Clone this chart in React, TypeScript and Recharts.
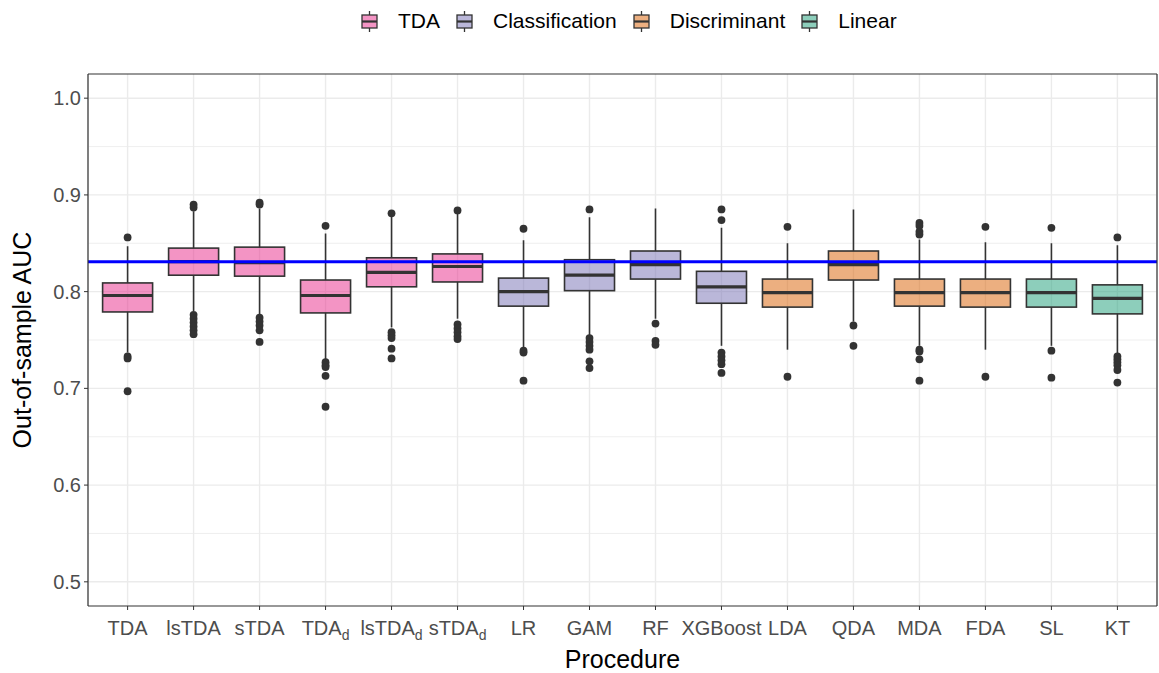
import React from 'react';
import { ComposedChart, Bar, Scatter, XAxis, YAxis, CartesianGrid, ReferenceLine } from 'recharts';

const FONT = '"Liberation Sans", Arial, Helvetica, sans-serif';

const procedures = ['TDA', 'lsTDA', 'sTDA', 'TDA_d', 'lsTDA_d', 'sTDA_d', 'LR', 'GAM', 'RF', 'XGBoost', 'LDA', 'QDA', 'MDA', 'FDA', 'SL', 'KT'];
const groupOf = ['TDA', 'TDA', 'TDA', 'TDA', 'TDA', 'TDA', 'Classification', 'Classification', 'Classification', 'Classification', 'Discriminant', 'Discriminant', 'Discriminant', 'Discriminant', 'Linear', 'Linear'];

const lowerWhisker = [0.737, 0.78, 0.776, 0.73, 0.763, 0.772, 0.742, 0.755, 0.772, 0.744, 0.74, 0.769, 0.744, 0.74, 0.744, 0.735];
const q1 = [0.779, 0.817, 0.816, 0.778, 0.805, 0.81, 0.785, 0.801, 0.813, 0.788, 0.784, 0.812, 0.785, 0.784, 0.784, 0.777];
const median = [0.796, 0.831, 0.83, 0.796, 0.82, 0.826, 0.8, 0.817, 0.828, 0.805, 0.799, 0.828, 0.799, 0.799, 0.799, 0.793];
const q3 = [0.809, 0.845, 0.846, 0.812, 0.835, 0.839, 0.814, 0.833, 0.842, 0.821, 0.813, 0.842, 0.813, 0.813, 0.813, 0.807];
const upperWhisker = [0.847, 0.883, 0.886, 0.86, 0.878, 0.882, 0.853, 0.877, 0.886, 0.866, 0.85, 0.885, 0.854, 0.851, 0.85, 0.848];

const outliers = [
  [0.856, 0.733, 0.731, 0.697],
  [0.89, 0.887, 0.776, 0.772, 0.768, 0.764, 0.76, 0.756],
  [0.892, 0.89, 0.773, 0.769, 0.765, 0.76, 0.748],
  [0.868, 0.727, 0.724, 0.722, 0.713, 0.681],
  [0.881, 0.758, 0.755, 0.752, 0.741, 0.731],
  [0.884, 0.766, 0.762, 0.758, 0.754, 0.751],
  [0.865, 0.739, 0.737, 0.708],
  [0.885, 0.752, 0.748, 0.744, 0.74, 0.728, 0.721],
  [0.767, 0.749, 0.745],
  [0.885, 0.874, 0.737, 0.733, 0.729, 0.725, 0.716],
  [0.867, 0.712],
  [0.765, 0.744],
  [0.871, 0.868, 0.862, 0.859, 0.74, 0.738, 0.73, 0.708],
  [0.867, 0.712],
  [0.866, 0.739, 0.711],
  [0.856, 0.733, 0.73, 0.727, 0.724, 0.719, 0.706],
];

const benchmark = 0.831;

const groups = ['TDA', 'Classification', 'Discriminant', 'Linear'];
const groupColors: Record<string, string> = {
  TDA: '#E7298A',
  Classification: '#7570B3',
  Discriminant: '#D95F02',
  Linear: '#1B9E77',
};

const majorTicks = [0.5, 0.6, 0.7, 0.8, 0.9, 1.0];
const minorTicks = [0.55, 0.65, 0.75, 0.85, 0.95];

const data = procedures.map((proc, i) => ({
  proc,
  group: groupOf[i],
  lo: lowerWhisker[i],
  q1: q1[i],
  med: median[i],
  q3: q3[i],
  hi: upperWhisker[i],
  box: [q1[i], q3[i]],
}));

const outlierPoints = procedures.flatMap((proc, i) => outliers[i].map((value) => ({ proc, value })));

// box drawn from the [q1, q3] bar; whiskers/median placed on the same linear scale
const BoxShape = (props: any) => {
  const { x, y, width, height, payload } = props;
  const top = Math.min(y, y + height);
  const h = Math.abs(height);
  const k = h / (payload.q3 - payload.q1);
  const py = (v: number) => top + (payload.q3 - v) * k;
  const cx = x + width / 2;
  const color = groupColors[payload.group];
  return (
    <g>
      <line x1={cx} x2={cx} y1={py(payload.hi)} y2={py(payload.q3)} stroke="#333333" strokeWidth={1.6} />
      <line x1={cx} x2={cx} y1={py(payload.q1)} y2={py(payload.lo)} stroke="#333333" strokeWidth={1.6} />
      <rect x={x} y={top} width={width} height={h} fill={color} fillOpacity={0.5} stroke="#333333" strokeWidth={1.6} />
      <line x1={x} x2={x + width} y1={py(payload.med)} y2={py(payload.med)} stroke="#333333" strokeWidth={3.2} />
    </g>
  );
};

const XTick = ({ x, y, payload }: any) => {
  const v = String(payload.value);
  const sub = v.endsWith('_d');
  const base = sub ? v.slice(0, -2) : v;
  return (
    <text x={x} y={y + 23} textAnchor="middle" fill="#4d4d4d" fontSize={20} fontFamily={FONT}>
      {base}
      {sub && (
        <tspan fontSize={14} dy={5}>
          d
        </tspan>
      )}
    </text>
  );
};

const LegendKey = ({ color }: { color: string }) => (
  <svg width={17} height={21} style={{ display: 'block' }}>
    <line x1={8.5} x2={8.5} y1={0} y2={21} stroke="#333333" strokeWidth={1.3} />
    <rect x={1} y={4} width={15} height={13} fill="#fff" />
    <rect x={1} y={4} width={15} height={13} fill={color} fillOpacity={0.5} stroke="#333333" strokeWidth={1.3} />
    <line x1={1} x2={16} y1={10.5} y2={10.5} stroke="#333333" strokeWidth={2.2} />
  </svg>
);

export default function App() {
  return (
    <div style={{ position: 'absolute', left: 0, top: 0, width: 1159, height: 673, background: '#fff', fontFamily: FONT }}>
      <div
        style={{
          position: 'absolute',
          top: 10,
          left: 361,
          display: 'flex',
          alignItems: 'center',
          fontSize: 21,
          lineHeight: '22px',
          color: '#000',
          whiteSpace: 'nowrap',
        }}
      >
        {groups.map((g) => (
          <div key={g} style={{ display: 'flex', alignItems: 'center', marginRight: 16 }}>
            <LegendKey color={groupColors[g]} />
            <span style={{ marginLeft: 20 }}>{g}</span>
          </div>
        ))}
      </div>
      <ComposedChart width={1159} height={673} data={data} margin={{ top: 73, right: 1, bottom: 0, left: 0 }}>
        <CartesianGrid vertical={false} horizontalValues={minorTicks} stroke="#ebebeb" strokeWidth={0.8} />
        <CartesianGrid horizontalValues={majorTicks} stroke="#ebebeb" strokeWidth={1.4} />
        <XAxis
          dataKey="proc"
          type="category"
          allowDuplicatedCategory={false}
          padding={{ left: 6.6, right: 6.6 }}
          height={67}
          tick={<XTick />}
          tickSize={4}
          tickMargin={2}
          tickLine={{ stroke: '#333333' }}
          axisLine={{ stroke: '#333333', strokeWidth: 1.2 }}
          interval={0}
          label={{ value: 'Procedure', position: 'insideBottom', offset: 5, fill: '#000', fontSize: 25, fontFamily: FONT }}
        />
        <XAxis xAxisId="top" dataKey="proc" orientation="top" height={1} tick={false} tickLine={false} axisLine={{ stroke: '#333333', strokeWidth: 1.2 }} />
        <YAxis
          type="number"
          domain={[0.475, 1.025]}
          ticks={majorTicks}
          tickFormatter={(v: number) => v.toFixed(1)}
          width={88}
          tickSize={4}
          tickMargin={3}
          tick={{ fill: '#4d4d4d', fontSize: 20, fontFamily: FONT }}
          tickLine={{ stroke: '#333333' }}
          axisLine={{ stroke: '#333333', strokeWidth: 1.2 }}
          allowDataOverflow
          label={{ value: 'Out-of-sample AUC', angle: -90, position: 'insideLeft', offset: 22, style: { textAnchor: 'middle' }, fill: '#000', fontSize: 25, fontFamily: FONT }}
        />
        <YAxis yAxisId="right" orientation="right" type="number" domain={[0.475, 1.025]} width={1} tick={false} tickLine={false} axisLine={{ stroke: '#333333', strokeWidth: 1.2 }} />
        <Bar dataKey="box" barSize={50} shape={<BoxShape />} isAnimationActive={false} />
        <Scatter
          data={outlierPoints}
          dataKey="value"
          isAnimationActive={false}
          shape={(p: any) => <circle cx={p.cx} cy={p.cy} r={3.9} fill="#333333" />}
        />
        <ReferenceLine y={benchmark} stroke="#0000ff" strokeWidth={3} />
      </ComposedChart>
    </div>
  );
}
